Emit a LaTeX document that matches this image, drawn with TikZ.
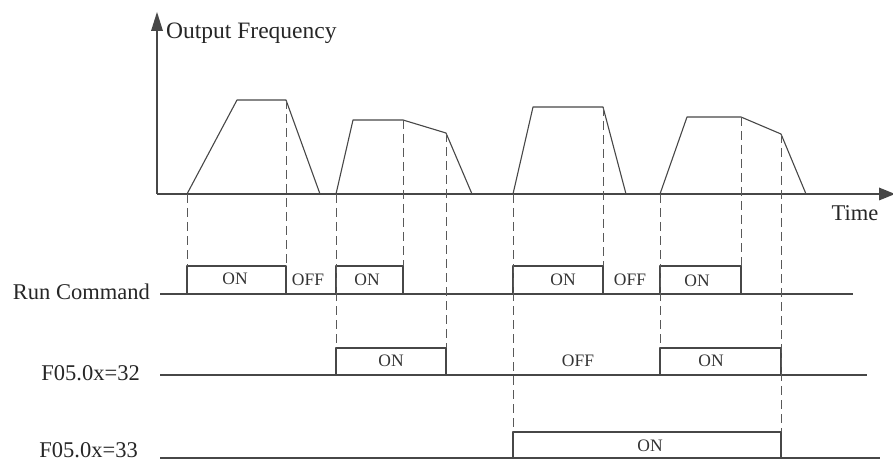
\documentclass[tikz,border=0pt]{standalone}
\usepackage{fontspec}
\setmainfont{Liberation Serif}
\usetikzlibrary{arrows.meta,positioning}

\begin{document}
\begin{tikzpicture}[x=1pt, y=-1pt,
    sig/.style={draw=black!72, line width=1.1pt, line join=round},
    guide/.style={draw=black!65, line width=1pt, dash pattern=on 9pt off 5pt},
    tiphead/.style={fill=black!72},
    lbl/.style={font=\fontsize{22.5}{26}\selectfont, inner sep=0pt, text=black!85},
    state/.style={font=\fontsize{17.5}{20}\selectfont, inner sep=0pt, text=black!80}]
    \useasboundingbox (0,0) rectangle (893,462);

    % Axes
    \coordinate (o) at (157,194);
    \coordinate (ytop) at (157,12);
    \coordinate (xend) at (895,194);
    \draw[sig] (o) -- ([yshift=-17pt]ytop);
    \draw[sig] (o) -- ([xshift=-14pt]xend);
    \fill[tiphead] (ytop) -- ++(-6,19) -- ++(12,0) -- cycle;
    \fill[tiphead] (xend) -- ++(-16,-6.5) -- ++(0,13) -- cycle;
    \node[lbl, anchor=west, font=\fontsize{23.5}{26}\selectfont] (freq) at (166,33) {Output Frequency};
    \node[lbl] (time) at (855,213) {Time};

    % Output frequency
    \draw[sig] (187,194) -- (237,100) -- (286,100) -- (320,194);
    \draw[sig] (336,194) -- (353,120) -- (403,120) -- (446,133) -- (472,194);
    \draw[sig] (513,194) -- (533,107) -- (603,107) -- (626,194);
    \draw[sig] (660,194) -- (687,117) -- (741,117) -- (781,134) -- (806,194);

    % Signal lines
    \node[lbl, anchor=east] (run) at (150,292) {Run Command};
    \node[lbl, anchor=east] (f32) at (140,373) {F05.0x=32};
    \node[lbl, anchor=east] (f33) at (138,450) {F05.0x=33};
    \draw[sig] (160,294) -- (853,294);
    \draw[sig] (160,375) -- (867,375);
    \draw[sig] (160,458) -- (880,458);

    % Run command pulses
    \draw[sig] (187,294) -- (187,266) -- (286,266) -- (286,294);
    \draw[sig] (336,294) -- (336,266) -- (403,266) -- (403,294);
    \draw[sig] (513,294) -- (513,266) -- (603,266) -- (603,294);
    \draw[sig] (660,294) -- (660,266) -- (741,266) -- (741,294);
    \node[state] (on1) at (235,279) {ON};
    \node[state] (off1) at (308,280) {OFF};
    \node[state] (on2) at (367,280) {ON};
    \node[state] (on3) at (563,280) {ON};
    \node[state] (off2) at (630,280) {OFF};
    \node[state] (on4) at (697,281) {ON};

    % F05.0x=32 pulses
    \draw[sig] (336,375) -- (336,348) -- (446,348) -- (446,375);
    \draw[sig] (660,375) -- (660,348) -- (781,348) -- (781,375);
    \node[state] (on5) at (391,361) {ON};
    \node[state] (off3) at (578,361) {OFF};
    \node[state] (on6) at (711,361) {ON};

    % F05.0x=33 pulse
    \draw[sig] (513,458) -- (513,432) -- (781,432) -- (781,458);
    \node[state] (on7) at (650,446) {ON};

    % Guides
    \draw[guide] (187,194) -- (187,266);
    \draw[guide] (286,100) -- (286,266);
    \draw[guide] (336,194) -- (336,348);
    \draw[guide] (403,120) -- (403,266);
    \draw[guide] (446,133) -- (446,348);
    \draw[guide] (513,194) -- (513,432);
    \draw[guide] (603,107) -- (603,266);
    \draw[guide] (660,194) -- (660,348);
    \draw[guide] (741,117) -- (741,266);
    \draw[guide] (781,134) -- (781,432);
\end{tikzpicture}
\end{document}
